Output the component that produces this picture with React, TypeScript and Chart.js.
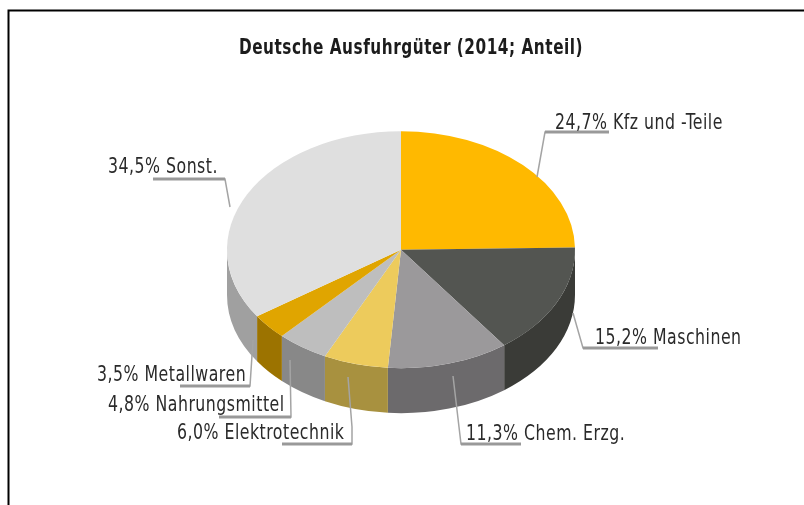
import React, { useEffect, useRef } from "react";
import { Chart, registerables } from "chart.js";

Chart.register(...registerables);

const titleText = "Deutsche Ausfuhrgüter (2014; Anteil)";
const categories = ["Kfz und -Teile", "Maschinen", "Chem. Erzg.", "Elektrotechnik", "Nahrungsmittel", "Metallwaren", "Sonst."];
const shares = [24.7, 15.2, 11.3, 6.0, 4.8, 3.5, 34.5];
const topColors = ["#FFB900", "#535551", "#9B999B", "#EDCB5C", "#BEBEBE", "#E0A500", "#DFDFDF"];
const sideColors = ["#A67800", "#3A3B37", "#6C6A6C", "#A8913F", "#888888", "#9C7300", "#A0A0A0"];

const FONT = '"DejaVu Sans Condensed", "DejaVu Sans", sans-serif';
const TILT = 118.5 / 174;
const DEPTH = 45;
const LABEL_STRETCH = 1.24;
const TITLE_STRETCH = 1.27;

const labelAnchors: [number, number][] = [
  [555, 129], [595, 344], [466, 440], [177, 439], [108, 411], [97, 381], [108, 173],
];
const leaderPaths: [number, number][][] = [
  [[537, 177], [545, 132], [609, 132]],
  [[573, 313], [583, 348], [658, 348]],
  [[453, 376], [461, 444], [521, 444]],
  [[348, 377], [352, 427], [352, 444], [282, 444]],
  [[290, 360], [291, 417], [219, 417]],
  [[253, 340], [250, 386], [180, 386]],
  [[230, 207], [225, 179], [153, 179]],
];

const formatShare = (v: number) => v.toFixed(1).replace(".", ",") + "%";

const pie3d = {
  id: "pie3d",
  beforeDraw(chart: any) {
    const { ctx, width, height } = chart;
    ctx.save();
    ctx.fillStyle = "#fff";
    ctx.fillRect(0, 0, width, height);
    ctx.strokeStyle = "#000";
    ctx.lineWidth = 2;
    ctx.beginPath();
    ctx.moveTo(8.5, height + 5);
    ctx.lineTo(8.5, 10.5);
    ctx.lineTo(width + 5, 10.5);
    ctx.stroke();
    ctx.restore();
  },
  afterLayout(chart: any) {
    const block = chart.titleBlock;
    block.left += 10;
    block.right += 10;
    if (!block.__stretched) {
      block.__stretched = true;
      const draw = block.draw;
      block.draw = function (this: any) {
        const { ctx } = chart;
        const cy = (this.top + this.bottom) / 2 - 9;
        ctx.save();
        ctx.letterSpacing = "0.53px";
        ctx.translate(0, cy);
        ctx.scale(1, TITLE_STRETCH);
        ctx.translate(0, -cy);
        draw.call(this, ctx);
        ctx.restore();
      };
    }
  },
  beforeDatasetsDraw(chart: any) {
    const { ctx } = chart;
    const arcs = chart.getDatasetMeta(0).data;
    ctx.save();
    arcs.forEach((arc: any, i: number) => {
      const a = Math.max(arc.startAngle, 0);
      const b = Math.min(arc.endAngle, Math.PI);
      if (b <= a) return;
      const r = arc.outerRadius;
      const ry = r * TILT;
      ctx.beginPath();
      ctx.ellipse(arc.x, arc.y, r, ry, 0, a, b);
      ctx.ellipse(arc.x, arc.y + DEPTH, r, ry, 0, b, a, true);
      ctx.closePath();
      ctx.fillStyle = sideColors[i];
      ctx.fill();
    });
    ctx.restore();
    const c = arcs[0];
    ctx.save();
    ctx.translate(c.x, c.y);
    ctx.scale(1, TILT);
    ctx.translate(-c.x, -c.y);
  },
  afterDatasetsDraw(chart: any) {
    const { ctx } = chart;
    ctx.restore();
    ctx.save();
    ctx.lineJoin = "miter";
    leaderPaths.forEach((path) => {
      ctx.strokeStyle = "#a4a4a4";
      ctx.lineWidth = 1.5;
      ctx.beginPath();
      path.forEach(([x, y], i) => (i ? ctx.lineTo(x, y) : ctx.moveTo(x, y)));
      ctx.stroke();
      const [p, q] = path.slice(-2);
      ctx.strokeStyle = "#999";
      ctx.lineWidth = 2.8;
      ctx.beginPath();
      ctx.moveTo(p[0], p[1]);
      ctx.lineTo(q[0], q[1]);
      ctx.stroke();
    });
    ctx.fillStyle = "#2a2a2a";
    ctx.font = `17.5px ${FONT}`;
    ctx.letterSpacing = "0.5px";
    ctx.textBaseline = "alphabetic";
    categories.forEach((name, i) => {
      const [x, y] = labelAnchors[i];
      ctx.save();
      ctx.translate(x, y);
      ctx.scale(1, LABEL_STRETCH);
      ctx.fillText(`${formatShare(shares[i])} ${name}`, 0, 0);
      ctx.restore();
    });
    ctx.restore();
  },
};

export default function App() {
  const ref = useRef<HTMLCanvasElement>(null);
  useEffect(() => {
    const chart = new Chart(ref.current!, {
      type: "pie",
      data: {
        labels: categories,
        datasets: [{ data: shares, backgroundColor: topColors, borderWidth: 0 }],
      },
      options: {
        animation: false,
        responsive: false,
        layout: { padding: { left: 227, right: 229, top: 38, bottom: 81 } },
        plugins: {
          legend: { display: false },
          tooltip: { enabled: false },
          title: {
            display: true,
            text: titleText,
            color: "#1c1c1c",
            font: { family: FONT, size: 17, weight: "bold" },
            padding: { top: 0, bottom: 17 },
          },
        },
      },
      plugins: [pie3d],
    } as any);
    return () => chart.destroy();
  }, []);
  return (
    <canvas
      ref={ref}
      width={804}
      height={505}
      style={{ position: "fixed", left: 0, top: 0, width: 804, height: 505, filter: "blur(0.6px)" }}
    />
  );
}
